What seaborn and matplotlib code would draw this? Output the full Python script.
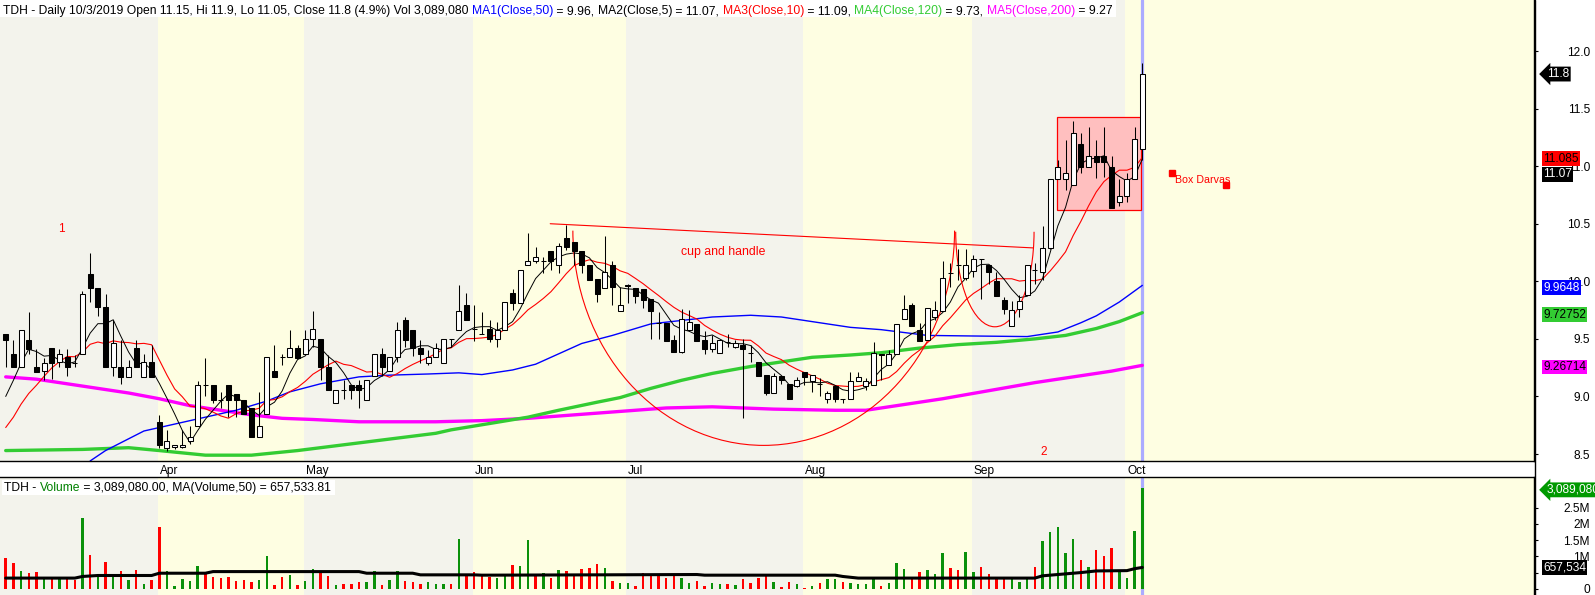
import numpy as np
import pandas as pd
import matplotlib
matplotlib.use("Agg")
import matplotlib.pyplot as plt
import matplotlib.transforms as mtransforms
from matplotlib.patches import Rectangle, Arc
from matplotlib.lines import Line2D
import seaborn as sns

sns.set_theme(style="white")
plt.rcParams['font.family'] = ['Liberation Sans', 'DejaVu Sans']

# ---- daily bars, TDH, Mar -> Oct 3 2019 ----
opens = [
    9.54, 9.37, 9.26, 9.49, 9.26, 9.22, 9.42, 9.30, 9.34, 9.29,
    9.37, 10.06, 9.94, 9.78, 9.26, 9.26, 9.17, 9.42, 9.17, 9.30,
    8.78, 8.55, 8.56, 8.56, 8.61, 8.74, 9.10, 9.10, 8.97, 9.10,
    9.02, 8.97, 8.90, 8.65, 8.85, 9.22, 9.34, 9.34, 9.42, 9.37,
    9.50, 9.50, 9.26, 8.94, 9.06, 9.10, 9.10, 8.97, 9.18, 9.37,
    9.22, 9.34, 9.66, 9.58, 9.42, 9.29, 9.34, 9.29, 9.50, 9.58,
    9.79, 9.59, 9.54, 9.59, 9.50, 9.58, 9.90, 9.81, 10.14, 10.18,
    10.18, 10.26, 10.14, 10.38, 10.34, 10.26, 10.14, 10.02, 9.94, 10.14,
    9.74, 9.97, 9.94, 9.93, 9.85, 9.64, 9.64, 9.49, 9.39, 9.58,
    9.63, 9.49, 9.41, 9.38, 9.47, 9.43, 9.45, 9.38, 9.30, 9.19,
    9.03, 9.18, 9.11, 9.09, 9.21, 9.13, 9.11, 8.98, 9.09, 8.98,
    8.98, 9.13, 9.09, 9.10, 9.37, 9.27, 9.37, 9.67, 9.79, 9.58,
    9.49, 9.69, 9.74, 10.07, 10.14, 10.03, 10.09, 10.19, 10.14, 10.00,
    9.84, 9.61, 9.76, 9.88, 10.10, 10.08, 10.29, 10.89, 10.89, 10.84,
    11.19, 10.99, 11.09, 11.09, 10.99, 10.69, 10.74, 10.89, 11.15]
highs = [
    9.54, 9.49, 9.58, 9.73, 9.41, 9.33, 9.42, 9.41, 9.41, 9.36,
    9.92, 10.25, 9.94, 9.89, 9.66, 9.49, 9.32, 9.49, 9.37, 9.45,
    8.84, 8.71, 8.58, 8.71, 8.74, 9.13, 9.33, 9.10, 9.04, 9.10,
    9.02, 8.97, 8.90, 9.04, 9.34, 9.45, 9.37, 9.58, 9.45, 9.58,
    9.74, 9.50, 9.36, 9.06, 9.14, 9.10, 9.14, 9.14, 9.37, 9.42,
    9.34, 9.65, 9.69, 9.58, 9.49, 9.40, 9.46, 9.50, 9.50, 9.97,
    9.90, 9.79, 9.73, 9.66, 9.65, 9.82, 9.93, 10.10, 10.42, 10.30,
    10.21, 10.26, 10.33, 10.49, 10.34, 10.26, 10.14, 10.02, 10.39, 10.18,
    9.95, 9.98, 9.94, 9.93, 9.85, 9.73, 9.64, 9.53, 9.76, 9.75,
    9.63, 9.57, 9.53, 9.49, 9.54, 9.49, 9.50, 9.45, 9.30, 9.19,
    9.20, 9.18, 9.11, 9.17, 9.21, 9.19, 9.16, 9.05, 9.10, 8.98,
    9.21, 9.21, 9.16, 9.47, 9.37, 9.40, 9.63, 9.88, 9.81, 9.64,
    9.77, 9.83, 10.18, 10.16, 10.28, 10.28, 10.23, 10.19, 10.14, 10.08,
    9.86, 9.83, 9.88, 10.14, 10.16, 10.48, 10.89, 11.05, 11.23, 11.39,
    11.29, 11.34, 11.23, 11.34, 11.09, 10.89, 10.94, 11.34, 11.90]
lows = [
    9.26, 9.26, 9.26, 9.37, 9.21, 9.14, 9.15, 9.26, 9.18, 9.26,
    9.37, 9.82, 9.70, 9.26, 9.18, 9.11, 9.17, 9.26, 9.17, 9.17,
    8.55, 8.53, 8.54, 8.55, 8.59, 8.74, 9.00, 8.94, 8.90, 8.82,
    8.82, 8.85, 8.65, 8.65, 8.85, 9.17, 9.27, 9.34, 9.33, 9.37,
    9.43, 9.14, 9.06, 8.94, 8.98, 8.98, 8.90, 8.97, 9.18, 9.18,
    9.22, 9.30, 9.43, 9.35, 9.29, 9.27, 9.34, 9.29, 9.43, 9.58,
    9.66, 9.48, 9.54, 9.47, 9.43, 9.58, 9.75, 9.81, 10.14, 10.16,
    10.07, 10.10, 10.07, 10.27, 10.14, 10.07, 10.01, 9.82, 9.94, 9.79,
    9.74, 9.81, 9.81, 9.77, 9.50, 9.50, 9.48, 9.39, 9.38, 9.57,
    9.48, 9.37, 9.39, 9.38, 9.43, 9.42, 8.81, 9.30, 9.18, 9.01,
    9.03, 9.11, 8.98, 9.08, 9.10, 9.04, 9.00, 8.94, 8.95, 8.94,
    8.98, 9.13, 9.06, 9.10, 9.14, 9.27, 9.37, 9.67, 9.61, 9.48,
    9.49, 9.66, 9.74, 9.95, 10.01, 10.01, 10.04, 9.85, 9.98, 9.87,
    9.72, 9.61, 9.69, 9.88, 9.98, 10.01, 10.28, 10.89, 10.79, 10.84,
    10.94, 10.99, 10.90, 10.91, 10.64, 10.65, 10.69, 10.89, 11.05]
closes = [
    9.49, 9.26, 9.58, 9.41, 9.21, 9.29, 9.29, 9.37, 9.26, 9.29,
    9.89, 9.94, 9.78, 9.26, 9.46, 9.17, 9.26, 9.26, 9.30, 9.17,
    8.58, 8.61, 8.58, 8.58, 8.65, 9.10, 9.10, 8.97, 8.97, 8.97,
    8.97, 8.85, 8.65, 8.74, 9.34, 9.17, 9.34, 9.42, 9.33, 9.50,
    9.59, 9.26, 9.06, 9.06, 9.06, 9.06, 9.06, 9.14, 9.37, 9.26,
    9.34, 9.58, 9.49, 9.42, 9.37, 9.34, 9.42, 9.50, 9.50, 9.74,
    9.66, 9.59, 9.54, 9.50, 9.58, 9.82, 9.81, 10.10, 10.18, 10.21,
    10.18, 10.18, 10.31, 10.30, 10.26, 10.14, 10.01, 9.89, 10.08, 9.95,
    9.79, 9.96, 9.87, 9.84, 9.74, 9.64, 9.48, 9.39, 9.67, 9.65,
    9.48, 9.41, 9.46, 9.49, 9.47, 9.46, 9.41, 9.38, 9.18, 9.03,
    9.18, 9.14, 8.98, 9.14, 9.17, 9.19, 9.11, 9.03, 8.98, 8.98,
    9.13, 9.17, 9.13, 9.38, 9.36, 9.37, 9.63, 9.76, 9.61, 9.48,
    9.77, 9.75, 10.03, 10.07, 10.14, 10.14, 10.19, 10.19, 10.08, 9.87,
    9.76, 9.75, 9.83, 10.14, 10.10, 10.29, 10.89, 10.99, 10.94, 11.29,
    10.99, 11.09, 11.04, 11.04, 10.64, 10.74, 10.89, 11.24, 11.80]
# closes before the visible window (feed the 5/10 day averages)
prior_closes = [8.36, 8.45, 8.48, 8.50, 8.51, 8.56, 8.83, 8.81, 9.31]

# volume in millions, and bar colour flag (g = up, r = down)
volume_m = [
    0.95, 0.79, 0.54, 0.48, 0.52, 0.35, 0.31, 0.31, 0.31, 0.27,
    2.19, 1.03, 0.43, 0.81, 0.45, 0.54, 0.27, 0.58, 0.14, 0.27,
    1.91, 0.54, 0.10, 0.31, 0.25, 0.69, 0.48, 0.35, 0.33, 0.35,
    0.23, 0.28, 0.20, 0.28, 1.00, 0.12, 0.35, 0.43, 0.12, 0.25,
    0.62, 0.56, 0.38, 0.12, 0.14, 0.14, 0.20, 0.20, 0.56, 0.12,
    0.28, 0.54, 0.23, 0.20, 0.16, 0.20, 0.14, 0.16, 0.16, 1.53,
    0.38, 0.52, 0.41, 0.37, 0.33, 0.38, 0.74, 0.69, 1.49, 0.43,
    0.48, 0.33, 0.59, 0.54, 0.43, 0.62, 0.65, 0.76, 0.65, 0.24,
    0.18, 0.18, 0.10, 0.48, 0.43, 0.46, 0.33, 0.41, 0.33, 0.18,
    0.23, 0.10, 0.18, 0.16, 0.15, 0.11, 0.30, 0.18, 0.33, 0.38,
    0.21, 0.05, 0.21, 0.15, 0.02, 0.08, 0.18, 0.29, 0.31, 0.21,
    0.18, 0.16, 0.15, 0.35, 0.08, 0.18, 0.80, 0.62, 0.29, 0.52,
    0.58, 0.46, 1.09, 0.65, 0.58, 1.12, 0.52, 0.68, 0.46, 0.33,
    0.33, 0.35, 0.21, 0.33, 0.68, 1.46, 1.74, 1.90, 1.09, 1.52,
    0.90, 0.68, 1.18, 1.02, 1.27, 0.58, 0.33, 1.77, 3.08908]
vol_dir = list(
    "rrgrrgrgrr" "grgrgrgrgr" "rgggggrrrr" "rrrggrrgrg" "grrgrrrggr"
    "ggrrrgggrg" "rrrrggrggr" "grgrrrrrgr" "ggrrrrrrgg" "rrggrgrrrr"
    "grrgrgrggr" "ggggrgggrr" "gggrrggrrr" "rgggrggggg" "rgrrrgggg")

# moving averages that need history before the window
ma50_idx = [11, 13, 18, 24, 30, 34, 37, 41, 46, 50, 55, 59, 62, 66, 69, 72, 75, 79, 84,
            88, 92, 97, 101, 105, 110, 114, 120, 126, 133, 137, 140, 142, 145, 148]
ma50_val = [8.44, 8.53, 8.70, 8.79, 8.88, 8.96, 9.04, 9.11, 9.17, 9.185, 9.195, 9.205, 9.19,
            9.23, 9.28, 9.37, 9.46, 9.53, 9.63, 9.66, 9.69, 9.705, 9.69, 9.65, 9.60, 9.58,
            9.53, 9.525, 9.52, 9.56, 9.64, 9.70, 9.82, 9.9648]
ma120_idx = [0, 10, 16, 20, 26, 32, 38, 44, 50, 56, 58, 63, 68, 72, 77, 80, 84, 88, 92, 97,
             101, 105, 110, 114, 119, 124, 129, 134, 138, 142, 145, 148]
ma120_val = [8.53, 8.54, 8.555, 8.53, 8.49, 8.49, 8.53, 8.58, 8.63, 8.68, 8.71, 8.765, 8.82,
             8.88, 8.95, 8.99, 9.07, 9.14, 9.20, 9.26, 9.30, 9.34, 9.36, 9.38, 9.42, 9.45,
             9.47, 9.50, 9.53, 9.59, 9.65, 9.7275]
ma200_idx = [0, 4, 8, 12, 16, 20, 24, 28, 32, 36, 40, 46, 56, 62, 68, 74, 80, 86, 92, 100,
             108, 112, 116, 122, 128, 134, 140, 144, 148]
ma200_val = [9.17, 9.15, 9.11, 9.07, 9.03, 8.98, 8.92, 8.88, 8.84, 8.81, 8.80, 8.78, 8.78,
             8.79, 8.81, 8.84, 8.87, 8.90, 8.91, 8.89, 8.88, 8.88, 8.92, 8.98, 9.05, 9.12,
             9.18, 9.22, 9.27]
vma_idx = [0, 9, 10, 12, 19, 20, 26, 27, 46, 47, 53, 54, 61, 62, 77, 90, 91, 108, 109, 111,
           134, 135, 140, 142, 146, 147, 148]
vma_val = [0.33, 0.33, 0.38, 0.41, 0.41, 0.48, 0.48, 0.53, 0.53, 0.48, 0.48, 0.43, 0.43, 0.42,
           0.43, 0.44, 0.42, 0.42, 0.38, 0.33, 0.33, 0.40, 0.50, 0.55, 0.56, 0.62, 0.6575]

month_names = ["Apr", "May", "Jun", "Jul", "Aug", "Sep", "Oct"]
month_first_bar = [20, 39, 61, 81, 104, 126, 146]

# drawn objects (bar index, price)
trend_x = [70.9, 133.8]
trend_y = [10.50, 10.29]
cup = (98.7, 10.44, 49.7, 3.73)       # centre x, centre y, width, height
handle = (128.8, 10.43, 10.2, 1.65)
darvas_box = (136.9, 10.62, 147.8, 11.43)
darvas_marks_x = [151.9, 158.9]
darvas_marks_y = [10.94, 10.84]

# ---------------------------------------------------------------
W, H = 1595, 595
PX, X0 = 7.68, 5.7
RIGHT = 1534
fig = plt.figure(figsize=(W / 100, H / 100), dpi=100)
fig.patch.set_facecolor("white")
ax = fig.add_axes([0, (H - 460.7) / H, RIGHT / W, 460.7 / H])
vax = fig.add_axes([0, 0, RIGHT / W, (H - 477.3) / H])

n = len(closes)
x = np.arange(n)
o, h, l, c = map(np.array, (opens, highs, lows, closes))
xmin, xmax = -X0 / PX, (RIGHT - X0) / PX
for a in (ax, vax):
    a.set_xlim(xmin, xmax)
    a.set_facecolor("white")
ax.set_ylim(8.442, 12.443)
vax.set_ylim(-0.19, 3.43)

# month bands
edges = [xmin] + [m - 0.2 for m in month_first_bar] + [xmax]
for k in range(len(edges) - 1):
    col = "#f3f3ec" if k % 2 == 0 else "#fefee2"
    for a in (ax, vax):
        a.axvspan(edges[k], edges[k + 1], color=col, lw=0, zorder=0)

# current bar marker
for a in (ax, vax):
    a.axvline(n - 1, color="#ababff", lw=2.3, zorder=1)

# darvas box
bx0, by0, bx1, by1 = darvas_box
ax.add_patch(Rectangle((bx0, by0), bx1 - bx0, by1 - by0, fc="#ffbfbf", ec="red", lw=0.9, zorder=1.5))

# moving averages
all_c = pd.Series(prior_closes + closes)
ma5 = all_c.rolling(5).mean().to_numpy()[len(prior_closes):]
ma10 = all_c.rolling(10).mean().to_numpy()[len(prior_closes):]
sns.lineplot(x=ma200_idx, y=ma200_val, ax=ax, color="#ff00ff", lw=2.4, zorder=2)
sns.lineplot(x=ma120_idx, y=ma120_val, ax=ax, color="#33cc33", lw=2.4, zorder=2)
sns.lineplot(x=ma50_idx, y=ma50_val, ax=ax, color="#0000ff", lw=1.0, zorder=2)
sns.lineplot(x=x, y=ma10, ax=ax, color="#ff0000", lw=0.8, zorder=2.2)
sns.lineplot(x=x, y=ma5, ax=ax, color="black", lw=0.7, zorder=2.2)

# candles
up = c >= o
ax.vlines(x, l, h, color="black", lw=0.75, zorder=3)
ax.bar(x, np.abs(c - o), bottom=np.minimum(o, c), width=0.65,
       color=np.where(up, "white", "black"), edgecolor="black", linewidth=0.75, zorder=4)

# pattern drawings
ax.plot(trend_x, trend_y, color="red", lw=0.8, zorder=2.5)
for cx, cy, w_, h_ in (cup, handle):
    ax.add_patch(Arc((cx, cy), w_, h_, theta1=180, theta2=360, color="red", lw=0.8, zorder=2.5))
ax.plot(darvas_marks_x, darvas_marks_y, ls="none", marker="s", ms=4.2, color="red", zorder=5, clip_on=False)
ax.text(152.3, 10.88, "Box Darvas", color="red", fontsize=7.7, va="center", ha="left")
ax.text(93.4, 10.257, "cup and handle", color="red", fontsize=8.8, va="center", ha="center")
ax.text(7.2, 10.455, "1", color="red", fontsize=8.5, va="center", ha="center")
ax.text(135.2, 8.517, "2", color="red", fontsize=8.5, va="center", ha="center")

# volume
vcol = ["#0a910a" if d == "g" else "#ff0000" for d in vol_dir]
vax.bar(x, volume_m, width=0.32, color=vcol, linewidth=0, zorder=3)
sns.lineplot(x=vma_idx, y=vma_val, ax=vax, color="black", lw=2.2, zorder=4)

# axes cosmetics
for a in (ax, vax):
    for s in a.spines.values():
        s.set_visible(False)
        s.set_color("black")
        s.set_linewidth(1.0)
    a.spines["right"].set_visible(True)
    a.set_xlabel("")
    a.set_ylabel("")
    a.grid(False)
ax.spines["bottom"].set_visible(True)
vax.spines["top"].set_visible(True)

ax.set_xticks([m - 0.2 for m in month_first_bar])
ax.set_xticklabels(month_names)
ax.tick_params(axis="x", direction="out", length=2.6, width=0.8, pad=0.5, labelsize=8.6, colors="black")
shift = mtransforms.ScaledTranslation(2 / 100, 0, fig.dpi_scale_trans)
for lbl in ax.get_xticklabels():
    lbl.set_horizontalalignment("left")
    lbl.set_transform(lbl.get_transform() + shift)
vax.tick_params(axis="x", bottom=False, labelbottom=False)

pad_pt = (1590 - RIGHT - 4) * 0.72
yt = [8.5, 9.0, 9.5, 10.0, 10.5, 11.0, 11.5, 12.0]
ax.yaxis.tick_right()
ax.set_yticks(yt)
ax.set_yticklabels([f"{v:.1f}" for v in yt])
ax.tick_params(axis="y", direction="out", length=2.9, width=0.8, pad=pad_pt, labelsize=8.6, colors="black")
vt = [0, 0.5, 1.0, 1.5, 2.0, 2.5]
vax.yaxis.tick_right()
vax.set_yticks(vt)
vax.set_yticklabels(["0", "", "1M", "1.5M", "2M", "2.5M"])
vax.tick_params(axis="y", direction="out", length=2.9, width=0.8, pad=pad_pt, labelsize=8.6, colors="black")
for a in (ax, vax):
    for lbl in a.get_yticklabels():
        lbl.set_horizontalalignment("right")

fig.add_artist(Line2D([(RIGHT + 0.5) / W] * 2, [0, 1], transform=fig.transFigure, color="black", lw=1.0))

# value tags on the right
def tag(a, y, s, fc, tc="white", px=1543, style="square,pad=0.12"):
    a.text((px - RIGHT) / RIGHT + 1.0, y, s, transform=a.get_yaxis_transform(), color=tc,
           fontsize=8.6, va="center", ha="left", clip_on=False, zorder=10,
           bbox=dict(boxstyle=style, fc=fc, ec="none"))

tag(ax, closes[-1], f"{closes[-1]:.1f}", "black", px=1547, style="larrow,pad=0.12")
tag(ax, ma10[-1] - 0.01, "11.085", "#ff0000", tc="black")
tag(ax, ma10[-1] - 0.145, "11.07", "black")
tag(ax, ma50_val[-1] - 0.02, "9.9648", "#0000ff")
tag(ax, ma120_val[-1] - 0.017, "9.72752", "#33cc33", tc="black")
tag(ax, ma200_val[-1] - 0.014, "9.26714", "#ff00ff", tc="black")
tag(vax, volume_m[-1] - 0.045, "3,089,080", "#009900", px=1547, style="larrow,pad=0.12")
tag(vax, vma_val[-1] - 0.01, "657,534", "black")

# multi-coloured title lines
rend = fig.canvas.get_renderer()

def text_w(s, size):
    t = fig.text(0, 0, s, fontsize=size)
    w = t.get_window_extent(renderer=rend).width
    t.remove()
    return w

def colored_line(parts, px, base_y, size):
    dot = text_w(".", size)
    prefix = ""
    for s, col in parts:
        off = text_w(prefix + ".", size) - dot if prefix else 0
        fig.text((px + off) / W, 1 - base_y / H, s, color=col, fontsize=size,
                 va="baseline", ha="left", zorder=6)
        prefix += s
    return px + text_w(prefix, size)

hdr = [("TDH - Daily 10/3/2019 Open 11.15, Hi 11.9, Lo 11.05, Close 11.8 (4.9%) Vol 3,089,080 ", "black"),
       ("MA1(Close,50)", "#0000ff"), (" = 9.96, ", "black"),
       ("MA2(Close,5)", "black"), (" = 11.07, ", "black"),
       ("MA3(Close,10)", "#ff0000"), (" = 11.09, ", "black"),
       ("MA4(Close,120)", "#33cc33"), (" = 9.73, ", "black"),
       ("MA5(Close,200)", "#ff00ff"), (" = 9.27", "black")]
end = colored_line(hdr, 3, 14, 8.75)
fig.add_artist(Rectangle((0, 1 - 17 / H), (end + 3) / W, 17 / H, transform=fig.transFigure,
                         fc="white", ec="none", zorder=4))

vhdr = [("TDH - ", "black"), ("Volume", "#008000"),
        (" = 3,089,080.00, MA(Volume,50) = 657,533.81", "black")]
end = colored_line(vhdr, 4, 491, 8.75)
fig.add_artist(Rectangle((2 / W, 1 - 495 / H), (end + 2) / W, 15 / H, transform=fig.transFigure,
                         fc="white", ec="none", zorder=4))

fig.savefig("out.png", dpi=100)
